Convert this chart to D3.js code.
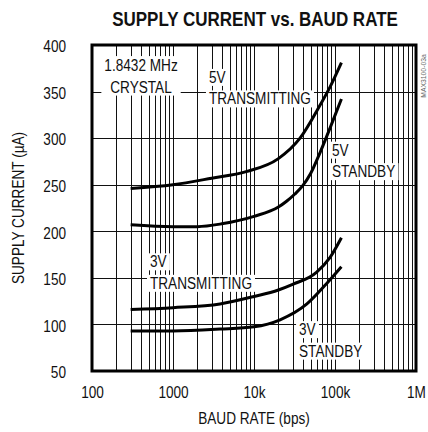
<!DOCTYPE html>
<html>
<head>
<meta charset="utf-8">
<script src="https://cdn.jsdelivr.net/npm/d3@7"></script>
<style>
  html, body { margin: 0; padding: 0; background: #fff; }
  svg { display: block; }
  text { font-family: "Liberation Sans", Arial, sans-serif; fill: #111; }
</style>
</head>
<body>
<svg id="chart" width="428" height="432"></svg>
<script>
// ---- Data (baud rate in bps, supply current in µA) ----
const xTickValues = [100, 1000, 10000, 100000, 1000000];
const xTickLabels = ["100", "1000", "10k", "100k", "1M"];
const yTickValues = [50, 100, 150, 200, 250, 300, 350, 400];

const baud5VTx = [300, 1000, 3000, 8000, 20000, 37000, 65000, 87000, 120000];
const cur5VTx  = [246, 250, 257, 264, 278, 300, 335, 355, 381];

const baud5VSb = [300, 1000, 2000, 4000, 10000, 20000, 25000, 32000, 40000, 50000, 65000, 87000, 120000];
const cur5VSb  = [207, 205, 205, 208, 216, 226, 232, 240, 249, 262, 284, 311, 342];

const baud3VTx = [300, 1000, 3800, 10000, 20000, 30000, 59000, 87000, 120000];
const cur3VTx  = [116, 118, 122, 130, 137, 143, 156, 172, 193];

const baud3VSb = [300, 1000, 3800, 10000, 21000, 45000, 79000, 120000];
const cur3VSb  = [93, 93, 95, 97.5, 105, 122, 144, 162];

// annotation text lines with anchor in data coordinates [baud, µA]
const labelLines = [
  ["1.8432 MHz", "CRYSTAL"],
  ["5V", "TRANSMITTING"],
  ["5V", "STANDBY"],
  ["3V", "TRANSMITTING"],
  ["3V", "STANDBY"]
];
const labelAnchorBaud = [403, 2780, 91800, 520, 36000];
const labelAnchorCur  = [372, 359.3, 281.2, 161.3, 88.5];

// ---- Chart ----
const svg = d3.select("#chart");
const W = 428, H = 432;
const m = { left: 92, right: 12, top: 45, bottom: 61 };
const NARROW = 0.85;

function narrow(sel) {
  sel.each(function () {
    const w = this.getComputedTextLength();
    if (w > 0) {
      this.setAttribute("textLength", (w * NARROW).toFixed(2));
      this.setAttribute("lengthAdjust", "spacingAndGlyphs");
    }
  });
  return sel;
}

const x = d3.scaleLog().domain([100, 1000000]).range([m.left, W - m.right]);
const y = d3.scaleLinear().domain([50, 400]).range([H - m.bottom, m.top]);

// title (horizontally condensed via transform)
svg.append("text")
  .attr("transform", `translate(255,26) scale(${NARROW},1)`)
  .attr("text-anchor", "middle")
  .style("font-size", "20px").style("font-weight", "bold")
  .text("SUPPLY CURRENT vs. BAUD RATE");

const grid = svg.append("g").attr("stroke", "#111").attr("stroke-width", 1);

// vertical grid
const vLines = [];
[100, 1000, 10000, 100000].forEach(d => {
  for (let k = 1; k <= 9; k++) vLines.push(k * d);
});
grid.selectAll("line.v").data(vLines.filter(v => v > 100))
  .join("line").attr("class", "v")
  .attr("x1", d => Math.round(x(d)) + 0.5).attr("x2", d => Math.round(x(d)) + 0.5)
  .attr("y1", y(400)).attr("y2", y(50));

// horizontal grid
grid.selectAll("line.h").data(yTickValues.filter(v => v > 50 && v < 400))
  .join("line").attr("class", "h")
  .attr("x1", x(100)).attr("x2", x(1000000))
  .attr("y1", d => Math.round(y(d)) + 0.5).attr("y2", d => Math.round(y(d)) + 0.5);

// annotation labels with white backgrounds
const lineGap = 21.5;
labelLines.forEach((lines, i) => {
  const g = svg.append("g");
  const ax = x(labelAnchorBaud[i]);
  const ay = y(labelAnchorCur[i]);
  const centered = i === 0;
  const texts = lines.map((t, j) => g.append("text")
    .attr("x", ax).attr("y", ay + j * lineGap)
    .attr("text-anchor", centered ? "middle" : "start")
    .style("font-size", "16px")
    .text(t)
    .call(narrow));
  if (centered) {
    const b = g.node().getBBox();
    g.insert("rect", "text")
      .attr("x", b.x - 3).attr("y", b.y - 1)
      .attr("width", b.width + 6).attr("height", b.height + 1)
      .attr("fill", "#fff");
  } else {
    texts.forEach(t => {
      const b = t.node().getBBox();
      g.insert("rect", "text")
        .attr("x", b.x - 3).attr("y", b.y)
        .attr("width", b.width + 6).attr("height", b.height)
        .attr("fill", "#fff");
    });
  }
});

// curves
const line = d3.line()
  .x(d => x(d[0])).y(d => y(d[1]))
  .curve(d3.curveMonotoneX);

const series = [
  [baud5VTx, cur5VTx],
  [baud5VSb, cur5VSb],
  [baud3VTx, cur3VTx],
  [baud3VSb, cur3VSb]
];
svg.append("g").selectAll("path").data(series)
  .join("path")
  .attr("d", s => line(s[0].map((b, i) => [b, s[1][i]])))
  .attr("fill", "none").attr("stroke", "#000").attr("stroke-width", 3)
  .attr("stroke-linecap", "butt");

// frame
svg.append("rect")
  .attr("x", x(100)).attr("y", y(400))
  .attr("width", x(1000000) - x(100)).attr("height", y(50) - y(400))
  .attr("fill", "none").attr("stroke", "#000").attr("stroke-width", 3);

// axes
const xAxis = d3.axisBottom(x).tickValues(xTickValues)
  .tickFormat((d, i) => xTickLabels[i]).tickSize(0).tickPadding(16);
const gx = svg.append("g").attr("transform", `translate(0,${y(50)})`).call(xAxis);
gx.select(".domain").remove();
gx.attr("font-family", null).attr("font-size", null);
gx.selectAll("text").style("font-size", "16px").attr("fill", "#111").call(narrow);

const yAxis = d3.axisLeft(y).tickValues(yTickValues).tickSize(0).tickPadding(26);
const gy = svg.append("g").attr("transform", `translate(${x(100)},0)`).call(yAxis);
gy.select(".domain").remove();
gy.attr("font-family", null).attr("font-size", null);
gy.selectAll("text").style("font-size", "16px").attr("fill", "#111")
  .attr("dy", "0.42em").call(narrow);

// axis titles
svg.append("text")
  .attr("x", 254).attr("y", 424)
  .attr("text-anchor", "middle")
  .style("font-size", "16px")
  .text("BAUD RATE (bps)")
  .call(narrow);

svg.append("text")
  .attr("transform", `translate(24,${y(225)}) rotate(-90)`)
  .attr("text-anchor", "middle")
  .style("font-size", "16px")
  .text("SUPPLY CURRENT (µA)")
  .call(narrow);

// part number tag
svg.append("text")
  .attr("transform", `translate(426,76) rotate(-90)`)
  .attr("text-anchor", "middle")
  .style("font-size", "8px")
  .style("fill", "#666")
  .text("MAX3100-03a")
  .call(narrow);
</script>
</body>
</html>
